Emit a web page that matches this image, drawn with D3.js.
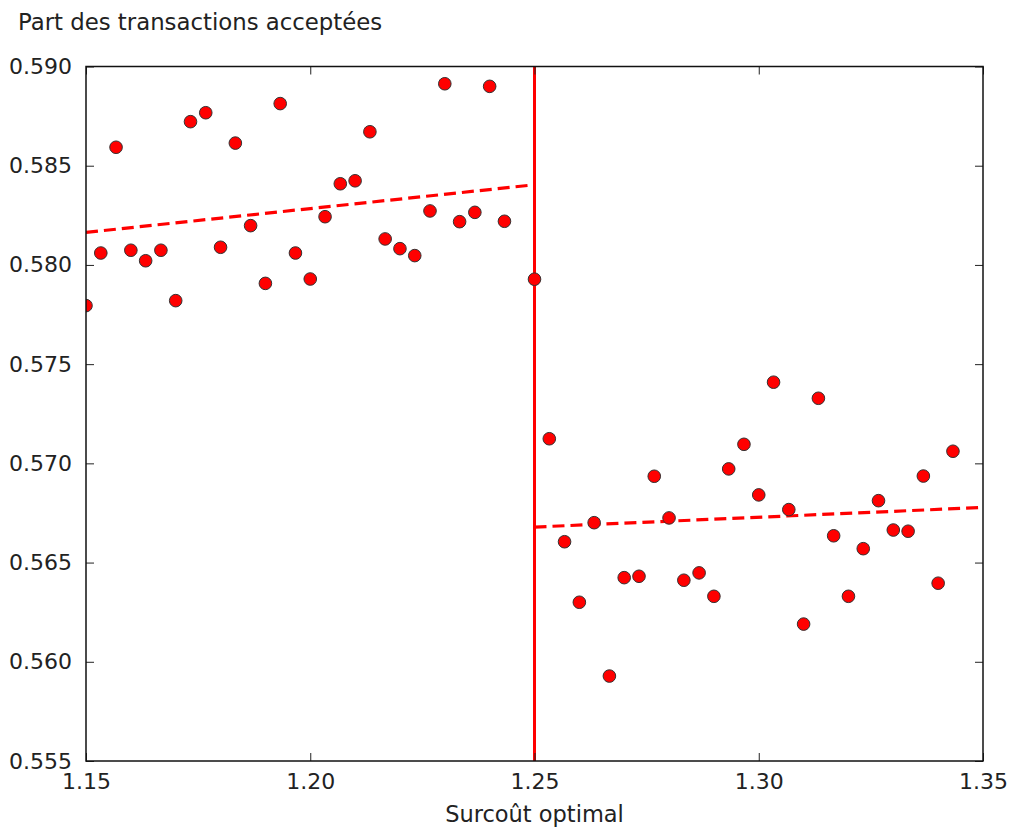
<!DOCTYPE html>
<html>
<head>
<meta charset="utf-8">
<script src="https://cdn.jsdelivr.net/npm/d3@7"></script>
<style>
  html, body { margin: 0; padding: 0; background: #fff; }
  text { font-family: "DejaVu Sans", sans-serif; fill: #222; }
</style>
</head>
<body>
<svg id="chart" width="1010" height="828"></svg>
<script>
// ---- data ----
const xLeft = [1.1500, 1.1533, 1.1567, 1.1600, 1.1633, 1.1667, 1.1700, 1.1733, 1.1767, 1.1800,
               1.1833, 1.1867, 1.1900, 1.1933, 1.1967, 1.2000, 1.2033, 1.2067, 1.2100, 1.2133,
               1.2167, 1.2200, 1.2233, 1.2267, 1.2300, 1.2333, 1.2367, 1.2400, 1.2433, 1.2500];
const yLeft = [0.57795, 0.58060, 0.58593, 0.58074, 0.58021, 0.58074, 0.57820, 0.58722, 0.58767, 0.58089,
               0.58614, 0.58198, 0.57907, 0.58813, 0.58060, 0.57929, 0.58243, 0.58409, 0.58424, 0.58671,
               0.58131, 0.58082, 0.58047, 0.58272, 0.58913, 0.58218, 0.58265, 0.58900, 0.58220, 0.57928];
const xRight = [1.2533, 1.2567, 1.2600, 1.2633, 1.2667, 1.2700, 1.2733, 1.2767, 1.2800, 1.2833,
                1.2867, 1.2900, 1.2933, 1.2967, 1.3000, 1.3033, 1.3067, 1.3100, 1.3133, 1.3167,
                1.3200, 1.3233, 1.3267, 1.3300, 1.3333, 1.3367, 1.3400, 1.3433];
const yRight = [0.57124, 0.56605, 0.56300, 0.56701, 0.55928, 0.56424, 0.56431, 0.56935, 0.56725, 0.56411,
                0.56448, 0.56330, 0.56972, 0.57096, 0.56841, 0.57409, 0.56767, 0.56190, 0.57328, 0.56635,
                0.56330, 0.56570, 0.56812, 0.56664, 0.56658, 0.56936, 0.56396, 0.57061];
const fitLeftX = [1.15, 1.25];
const fitLeftY = [0.58164, 0.58404];
const fitRightX = [1.25, 1.35];
const fitRightY = [0.56679, 0.56778];
const cutoff = 1.25;
const xTicks = [1.15, 1.20, 1.25, 1.30, 1.35];
const yTicks = [0.555, 0.560, 0.565, 0.570, 0.575, 0.580, 0.585, 0.590];
const yLabel = "Part des transactions acceptées";
const xLabel = "Surcoût optimal";

// ---- layout ----
const W = 1010, H = 828;
const m = { left: 86, right: 27, top: 66.5, bottom: 67 };
const iw = W - m.left - m.right, ih = H - m.top - m.bottom;

const svg = d3.select("#chart");
const x = d3.scaleLinear().domain([1.15, 1.35]).range([m.left, m.left + iw]);
const y = d3.scaleLinear().domain([0.555, 0.590]).range([m.top + ih, m.top]);

svg.append("defs").append("clipPath").attr("id", "clip")
  .append("rect").attr("x", m.left).attr("y", m.top).attr("width", iw).attr("height", ih);

const plot = svg.append("g").attr("clip-path", "url(#clip)");

// vertical cutoff line
plot.append("line")
  .attr("x1", x(cutoff)).attr("x2", x(cutoff))
  .attr("y1", m.top).attr("y2", m.top + ih)
  .attr("stroke", "#ff0000").attr("stroke-width", 3);

// fitted lines
const line = d3.line().x(d => x(d[0])).y(d => y(d[1]));
[[fitLeftX, fitLeftY], [fitRightX, fitRightY]].forEach(([xs, ys]) => {
  plot.append("path")
    .attr("d", line(d3.zip(xs, ys)))
    .attr("fill", "none")
    .attr("stroke", "#ff0000")
    .attr("stroke-width", 3.2)
    .attr("stroke-dasharray", "12,6");
});

// points
const pts = d3.zip(xLeft, yLeft).concat(d3.zip(xRight, yRight));
plot.selectAll("circle.pt").data(pts).enter().append("circle")
  .attr("class", "pt")
  .attr("cx", d => x(d[0])).attr("cy", d => y(d[1]))
  .attr("r", 6.3)
  .attr("fill", "#ff0000")
  .attr("stroke", "#333")
  .attr("stroke-width", 1);

// axes (ticks inward)
const fmtY = d3.format(".3f"), fmtX = d3.format(".2f");
const axB = svg.append("g").attr("transform", `translate(0,${m.top + ih})`)
  .call(d3.axisBottom(x).tickValues(xTicks).tickFormat(fmtX).tickSizeInner(-8).tickSizeOuter(0).tickPadding(12));
const axT = svg.append("g").attr("transform", `translate(0,${m.top})`)
  .call(d3.axisTop(x).tickValues(xTicks).tickFormat("").tickSizeInner(-8).tickSizeOuter(0));
const axL = svg.append("g").attr("transform", `translate(${m.left},0)`)
  .call(d3.axisLeft(y).tickValues(yTicks).tickFormat(fmtY).tickSizeInner(-8).tickSizeOuter(0).tickPadding(14));
const axR = svg.append("g").attr("transform", `translate(${m.left + iw},0)`)
  .call(d3.axisRight(y).tickValues(yTicks).tickFormat("").tickSizeInner(-8).tickSizeOuter(0));

[axB, axT, axL, axR].forEach(a => {
  a.select(".domain").remove();
  a.selectAll(".tick line").attr("stroke", "#222").attr("stroke-width", 1);
  a.selectAll(".tick text").attr("font-size", 22).attr("fill", "#222")
    .style("font-family", "'DejaVu Sans', sans-serif");
});
axB.selectAll(".tick text").attr("dy", "0.71em");

// frame
svg.append("rect")
  .attr("x", m.left).attr("y", m.top).attr("width", iw).attr("height", ih)
  .attr("fill", "none").attr("stroke", "#111").attr("stroke-width", 1.5);

// labels
svg.append("text").attr("x", 18).attr("y", 30)
  .attr("font-size", 22.8).text(yLabel);
svg.append("text").attr("x", m.left + iw / 2).attr("y", 822)
  .attr("text-anchor", "middle").attr("font-size", 22.5).text(xLabel);
</script>
</body>
</html>
